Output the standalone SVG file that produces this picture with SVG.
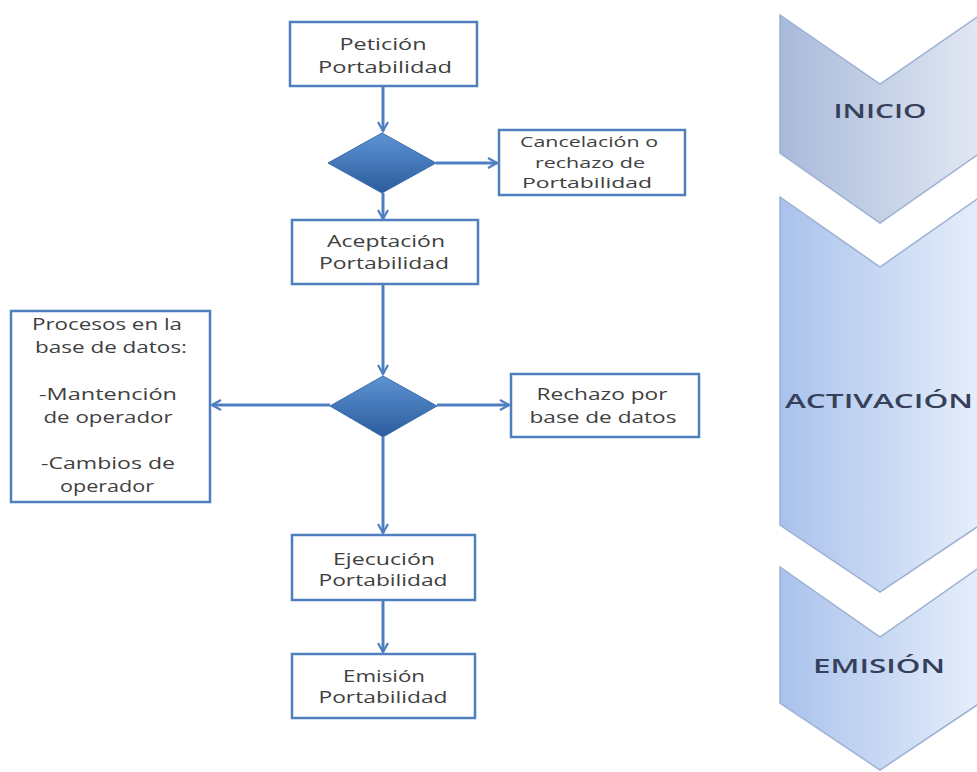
<svg xmlns="http://www.w3.org/2000/svg" width="977" height="772" viewBox="0 0 977 772">
<defs>
<linearGradient id="chevA" x1="0" y1="0" x2="1" y2="0"><stop offset="0" stop-color="#a8b9da"/><stop offset="1" stop-color="#e2e8f3"/></linearGradient>
<linearGradient id="chevB" x1="0" y1="0" x2="1" y2="0"><stop offset="0" stop-color="#a9c2ec"/><stop offset="1" stop-color="#e6eefb"/></linearGradient>
<linearGradient id="dia" x1="0" y1="0" x2="0" y2="1"><stop offset="0" stop-color="#5e93d4"/><stop offset="1" stop-color="#2b5c9c"/></linearGradient>
<marker id="arr" viewBox="0 0 12 12" refX="10" refY="6" markerWidth="12" markerHeight="12" markerUnits="userSpaceOnUse" orient="auto">
<path d="M1,1 L10,6 L1,11" fill="none" stroke="#4f7fbf" stroke-width="2.2"/>
</marker>
</defs>
<style>
.box{fill:#fff;stroke:#4f7fbf;stroke-width:2.5}
.t{font-family:"Open Sans","Liberation Sans",sans-serif;font-size:16px;fill:#404040;text-anchor:middle}
.s{font-size:15px}
.c{font-family:"Open Sans","Liberation Sans",sans-serif;font-size:20px;font-weight:600;fill:#36405a;text-anchor:middle}
.chev{stroke:#9db0d3;stroke-width:1.5}
.con{fill:none;stroke:#4f7fbf;stroke-width:3;marker-end:url(#arr)}
.d{fill:url(#dia);stroke:#3a6cae;stroke-width:1}
</style>
<rect width="977" height="772" fill="#fff"/>

<g id="phase-inicio">
<path class="chev" fill="url(#chevA)" d="M780,15 L880,84 L980,15 L980,153 L880,223 L780,153 Z"/>
<text class="c" x="880" y="118" textLength="93" lengthAdjust="spacingAndGlyphs">INICIO</text>
</g>
<g id="phase-activacion">
<path class="chev" fill="url(#chevB)" d="M780,197 L880,267 L980,197 L980,525 L880,592 L780,525 Z"/>
<text class="c" x="879" y="408" textLength="188" lengthAdjust="spacingAndGlyphs">ACTIVACIÓN</text>
</g>
<g id="phase-emision">
<path class="chev" fill="url(#chevB)" d="M780,567 L880,637 L980,567 L980,703 L880,770 L780,703 Z"/>
<text class="c" x="879" y="673" textLength="132" lengthAdjust="spacingAndGlyphs">EMISIÓN</text>
</g>

<g id="connectors">
<path class="con" d="M383,87 L383,131"/>
<path class="con" d="M436,163 L497,163"/>
<path class="con" d="M383,193 L383,219"/>
<path class="con" d="M383,285 L383,374"/>
<path class="con" d="M437,405 L509,405"/>
<path class="con" d="M330,405 L212,405"/>
<path class="con" d="M383,437 L383,533"/>
<path class="con" d="M383,601 L383,652"/>
</g>

<g id="peticion">
<rect class="box" x="290" y="22" width="187" height="64"/>
<text class="t" x="383" y="50" textLength="87" lengthAdjust="spacingAndGlyphs">Petición</text>
<text class="t" x="385" y="73" textLength="134" lengthAdjust="spacingAndGlyphs">Portabilidad</text>
</g>
<g id="decision1">
<polygon class="d" points="382,133 436,163 382,193 328,163"/>
</g>
<g id="cancelacion">
<rect class="box" x="499" y="130" width="186" height="65"/>
<text class="t s" x="589" y="147" textLength="138" lengthAdjust="spacingAndGlyphs">Cancelación o</text>
<text class="t s" x="590" y="168" textLength="110" lengthAdjust="spacingAndGlyphs">rechazo de</text>
<text class="t s" x="587" y="188" textLength="130" lengthAdjust="spacingAndGlyphs">Portabilidad</text>
</g>
<g id="aceptacion">
<rect class="box" x="292" y="220" width="186" height="64"/>
<text class="t" x="386" y="247" textLength="118" lengthAdjust="spacingAndGlyphs">Aceptación</text>
<text class="t" x="384" y="269" textLength="130" lengthAdjust="spacingAndGlyphs">Portabilidad</text>
</g>
<g id="decision2">
<polygon class="d" points="383,376 437,406 383,437 330,406"/>
</g>
<g id="procesos">
<rect class="box" x="11" y="311" width="199" height="191"/>
<text class="t" x="107" y="330" textLength="150" lengthAdjust="spacingAndGlyphs">Procesos en la</text>
<text class="t" x="111" y="353" textLength="152" lengthAdjust="spacingAndGlyphs">base de datos:</text>
<text class="t" x="108" y="400" textLength="138" lengthAdjust="spacingAndGlyphs">-Mantención</text>
<text class="t" x="108" y="423" textLength="129" lengthAdjust="spacingAndGlyphs">de operador</text>
<text class="t" x="108" y="469" textLength="134" lengthAdjust="spacingAndGlyphs">-Cambios de</text>
<text class="t" x="107" y="492" textLength="94" lengthAdjust="spacingAndGlyphs">operador</text>
</g>
<g id="rechazo">
<rect class="box" x="511" y="374" width="188" height="63"/>
<text class="t" x="602" y="400" textLength="131" lengthAdjust="spacingAndGlyphs">Rechazo por</text>
<text class="t" x="603" y="423" textLength="147" lengthAdjust="spacingAndGlyphs">base de datos</text>
</g>
<g id="ejecucion">
<rect class="box" x="292" y="535" width="183" height="65"/>
<text class="t" x="384" y="565" textLength="102" lengthAdjust="spacingAndGlyphs">Ejecución</text>
<text class="t" x="383" y="586" textLength="129" lengthAdjust="spacingAndGlyphs">Portabilidad</text>
</g>
<g id="emision">
<rect class="box" x="292" y="654" width="183" height="64"/>
<text class="t" x="384" y="682" textLength="82" lengthAdjust="spacingAndGlyphs">Emisión</text>
<text class="t" x="383" y="703" textLength="129" lengthAdjust="spacingAndGlyphs">Portabilidad</text>
</g>
</svg>
